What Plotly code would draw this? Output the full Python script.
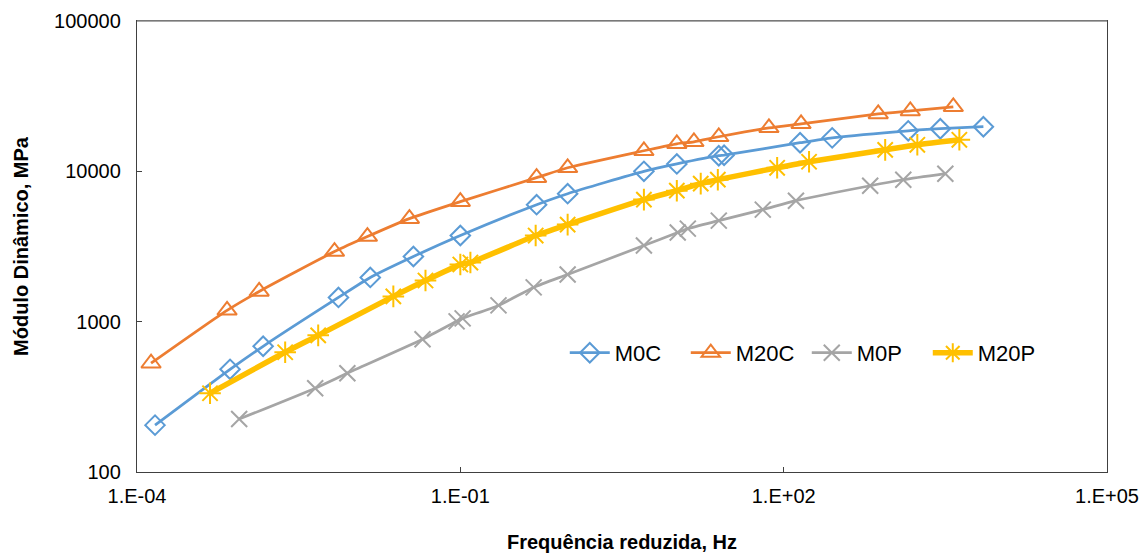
import plotly.graph_objects as go

# Frequência reduzida (Hz) e módulo dinâmico (MPa)
m0c_f = [1.47e-4, 7.3e-4, 1.48e-3, 7.4e-3, 0.0146, 0.0367, 0.1, 0.51, 0.99,
         5.05, 10.2, 25, 28, 142, 282, 1432, 2840, 7130]
m0c_e = [205, 482, 686, 1449, 1968, 2712, 3741, 6000, 7100,
         10000, 11200, 12700, 12800, 15500, 16700, 18600, 19200, 19800]

m20c_f = [1.35e-4, 6.85e-4, 1.36e-3, 6.8e-3, 0.01374, 0.0337, 0.1, 0.51, 0.99,
          5.05, 10.2, 14.7, 25, 73, 145, 754, 1496, 3750]
m20c_e = [529, 1189, 1589, 2926, 3683, 4845, 6285, 9074, 10560,
          13700, 15250, 15720, 16980, 19460, 20700, 24100, 25200, 26850]

m0p_f = [8.87e-4, 4.5e-3, 8.95e-3, 0.0446, 0.0923, 0.105, 0.226, 0.479, 0.99,
         5.05, 10.4, 12.9, 25, 64, 130, 635, 1288, 3162]
m0p_e = [225, 361, 454, 763, 1005, 1052, 1283, 1690, 2061,
         3210, 3915, 4160, 4700, 5560, 6380, 8020, 8790, 9640]

m20p_f = [4.76e-4, 2.37e-3, 4.8e-3, 0.0239, 0.0475, 0.1, 0.124, 0.5, 0.99,
          5.05, 10.2, 17, 24.5, 87, 172, 875, 1738, 4266]
m20p_e = [334, 626, 811, 1472, 1879, 2400, 2474, 3740, 4424,
          6486, 7435, 8280, 8800, 10560, 11580, 13900, 15020, 16210]

x_ticks = [1e-4, 1e-1, 1e2, 1e5]
x_labels = ["1.E-04", "1.E-01", "1.E+02", "1.E+05"]
y_ticks = [100, 1000, 10000, 100000]
y_labels = ["100", "1000", "10000", "100000"]

FONT = "Liberation Sans, Arial"

series = [
    ("M0C", m0c_f, m0c_e, "#5B9BD5", 2.75, "diamond-open", 15),
    ("M20C", m20c_f, m20c_e, "#ED7D31", 2.75, "triangle-up-open", 17),
    ("M0P", m0p_f, m0p_e, "#A5A5A5", 2.75, "x-thin-open", 16),
    ("M20P", m20p_f, m20p_e, "#FFC000", 5.5, "asterisk-open", 18),
]

fig = go.Figure()
for name, f, e, cor, lw, simb, tam in series:
    fig.add_trace(go.Scatter(
        x=f, y=e, name=name, mode="lines+markers",
        line=dict(color=cor, width=lw, shape="spline", smoothing=0.6),
        marker=dict(symbol=simb, size=tam, color=cor,
                    line=dict(color=cor, width=2)),
    ))

fig.update_xaxes(
    type="log", range=[-4, 5], tickvals=x_ticks, ticktext=x_labels,
    automargin=False,
    showgrid=False, showline=True, linecolor="#404040", linewidth=1.3,
    mirror=True, ticks="inside", ticklen=5, tickcolor="#404040",
    ticklabelstandoff=6,
    tickfont=dict(family=FONT, size=20, color="#000000"),
    title=dict(text="<b>Frequência reduzida, Hz</b>", standoff=28,
               font=dict(family=FONT, size=20, color="#000000")),
)
fig.update_yaxes(
    type="log", range=[2, 5], tickvals=y_ticks, ticktext=y_labels,
    automargin=False,
    showgrid=False, showline=True, linecolor="#404040", linewidth=1.3,
    mirror=True, ticks="inside", ticklen=5, tickcolor="#404040",
    ticklabelstandoff=11,
    tickfont=dict(family=FONT, size=20, color="#000000"),
    title=dict(text="<b>Módulo Dinâmico, MPa</b>", standoff=20,
               font=dict(family=FONT, size=20, color="#000000")),
)

# borda superior cinza, como no original
fig.add_shape(type="line", xref="paper", yref="paper", x0=0, x1=1, y0=1, y1=1,
              line=dict(color="#8C8C8C", width=1.5))

fig.update_layout(
    width=1142, height=554,
    margin=dict(l=137, r=35, t=21, b=82),
    plot_bgcolor="white", paper_bgcolor="white",
    font=dict(family=FONT, color="#000000"),
    legend=dict(orientation="h", x=0.441, y=0.264, xanchor="left", yanchor="middle",
                bgcolor="rgba(0,0,0,0)", font=dict(size=22),
                entrywidth=66, itemwidth=40, tracegroupgap=0),
    showlegend=True,
)

# sem margem na página, para a figura ocupar a janela inteira
fig.write_html("out.html", config={"displayModeBar": False},
               post_script="document.body.style.margin='0';")
